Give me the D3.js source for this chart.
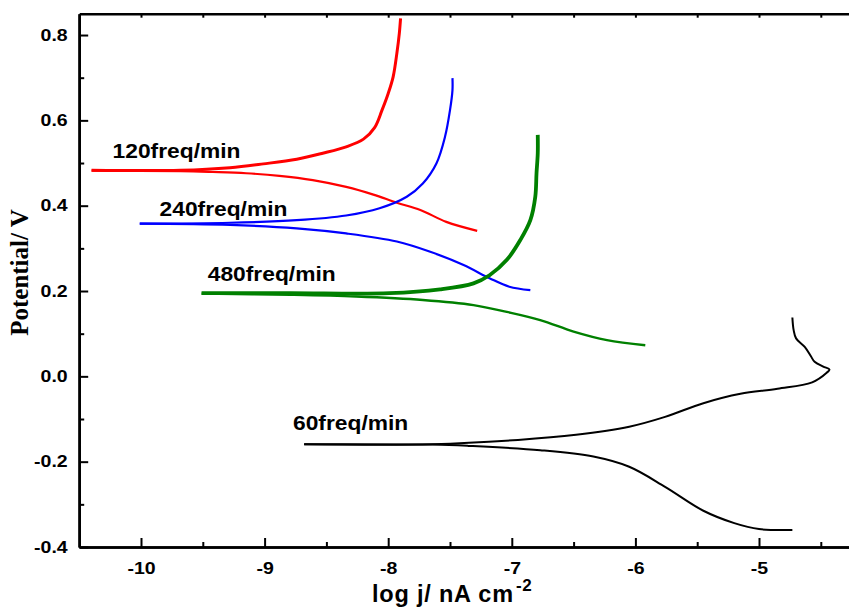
<!DOCTYPE html>
<html>
<head>
<meta charset="utf-8">
<script src="https://cdn.jsdelivr.net/npm/d3@7"></script>
<style>
  body { margin: 0; background: #fff; }
  svg { display: block; }
</style>
</head>
<body>
<div id="chart"></div>
<script>
// Tafel curves, [log j, E], from E corr outward
const cath60 = [[-8.68,-0.159],[-7.64,-0.160],[-7.35,-0.163],[-6.77,-0.173],[-6.34,-0.188],[-6.05,-0.212],[-5.76,-0.259],[-5.45,-0.315],[-5.20,-0.344],[-5.00,-0.358],[-4.73,-0.360]];
const anod60 = [[-8.68,-0.159],[-7.64,-0.159],[-6.95,-0.149],[-6.48,-0.137],[-6.05,-0.118],[-5.76,-0.095],[-5.45,-0.063],[-5.15,-0.041],[-4.85,-0.029],[-4.57,-0.014],[-4.45,0.009],[-4.43,0.016],[-4.48,0.023],[-4.55,0.034],[-4.58,0.047],[-4.63,0.069],[-4.70,0.089],[-4.72,0.109],[-4.73,0.138]];

const cath120 = [[-10.40,0.482],[-9.68,0.481],[-9.42,0.479],[-9.15,0.476],[-8.88,0.470],[-8.61,0.460],[-8.34,0.444],[-8.12,0.426],[-7.93,0.407],[-7.74,0.390],[-7.53,0.362],[-7.28,0.341]];
const anod120 = [[-10.40,0.483],[-9.68,0.483],[-9.28,0.489],[-9.01,0.498],[-8.74,0.509],[-8.53,0.523],[-8.34,0.538],[-8.20,0.556],[-8.11,0.583],[-8.05,0.624],[-8.00,0.663],[-7.96,0.702],[-7.93,0.757],[-7.91,0.804],[-7.90,0.839]];

const cath240 = [[-10.01,0.358],[-9.28,0.355],[-8.74,0.347],[-8.34,0.335],[-7.93,0.316],[-7.66,0.292],[-7.39,0.261],[-7.18,0.230],[-7.02,0.210],[-6.85,0.202]];
const anod240 = [[-10.01,0.358],[-9.28,0.360],[-8.74,0.366],[-8.34,0.377],[-8.07,0.394],[-7.85,0.421],[-7.72,0.452],[-7.61,0.499],[-7.54,0.562],[-7.50,0.624],[-7.48,0.671],[-7.48,0.699]];

const cath480 = [[-9.51,0.194],[-8.79,0.191],[-8.26,0.187],[-7.72,0.179],[-7.31,0.167],[-7.04,0.151],[-6.77,0.132],[-6.50,0.105],[-6.23,0.085],[-5.92,0.073]];
const anod480 = [[-9.51,0.195],[-8.79,0.195],[-7.99,0.195],[-7.58,0.204],[-7.31,0.218],[-7.18,0.237],[-7.04,0.273],[-6.93,0.320],[-6.85,0.366],[-6.81,0.421],[-6.80,0.476],[-6.79,0.523],[-6.79,0.566]];

const seriesNames = ["60freq/min", "120freq/min", "240freq/min", "480freq/min"];
const seriesColors = ["#000000", "#ff0000", "#0000ff", "#008000"];
const labelAt = [[-8.77, -0.126], [-10.23, 0.512], [-9.85, 0.377], [-9.46, 0.224]]; // label anchors, data units

const xMajor = [-10, -9, -8, -7, -6, -5];
const xMinor = [-9.5, -8.5, -7.5, -6.5, -5.5, -4.5];
const xTop = [-10, -9.5, -9, -8.5, -8, -7.5, -7, -6.5, -6, -5.5, -5, -4.5];
const yMajor = [-0.4, -0.2, 0.0, 0.2, 0.4, 0.6, 0.8];
const yMinor = [-0.3, -0.1, 0.1, 0.3, 0.5, 0.7];

const W = 849, H = 608;
const svg = d3.select("#chart").append("svg")
    .attr("width", W)
    .attr("height", H);

const x = d3.scaleLinear().domain([-10.5, -4.0]).range([79.2, 882.6]);
const y = d3.scaleLinear().domain([-0.4, 0.85]).range([547, 13.7]);
const plotLeft = x.range()[0], plotBottom = y.range()[0], plotTop = y.range()[1];

// stretch text horizontally around its own anchor (the original font is wide)
function stretch(sel, sx) {
    sel.attr("transform", function () {
        const tx = +this.getAttribute("x") || 0;
        const ty = +this.getAttribute("y") || 0;
        return `translate(${tx},${ty}) scale(${sx},1) translate(${-tx},${-ty})`;
    });
}

// curves
const line = d3.line()
    .x(d => x(d[0]))
    .y(d => y(d[1]))
    .curve(d3.curveCatmullRom.alpha(0.5));

const curves = [
    [cath60, 0, 2], [anod60, 0, 2],
    [cath120, 1, 2.2], [anod120, 1, 3],
    [cath240, 2, 2.2], [anod240, 2, 2.2],
    [cath480, 3, 2.4], [anod480, 3, 3.8]
];
curves.forEach(([pts, s, w]) => {
    svg.append("path")
        .datum(pts)
        .attr("d", line)
        .attr("fill", "none")
        .attr("stroke", seriesColors[s])
        .attr("stroke-width", w)
        .attr("stroke-linejoin", "round");
});

// axes
const styleAxis = g => {
    g.select(".domain").attr("stroke", "#000").attr("stroke-width", 2.6);
    g.selectAll(".tick line").attr("stroke", "#000").attr("stroke-width", 2);
};

svg.append("g")
    .attr("transform", `translate(0,${plotBottom})`)
    .call(d3.axisBottom(x).tickValues(xMinor).tickSize(-5).tickSizeOuter(0).tickFormat(""))
    .call(styleAxis);

const xAxis = svg.append("g")
    .attr("transform", `translate(0,${plotBottom})`)
    .call(d3.axisBottom(x).tickValues(xMajor).tickSize(-9).tickSizeOuter(0).tickFormat(d => String(d)))
    .call(styleAxis);
xAxis.selectAll(".tick text")
    .attr("y", 15.5)
    .attr("font-family", "Liberation Sans, Arial, sans-serif")
    .attr("font-weight", "bold")
    .attr("font-size", 16)
    .attr("fill", "#000")
    .call(stretch, 1.22);

svg.append("g")
    .attr("transform", `translate(0,${plotTop})`)
    .call(d3.axisTop(x).tickValues(xTop).tickSize(-4).tickSizeOuter(0).tickFormat(""))
    .call(styleAxis);

svg.append("g")
    .attr("transform", `translate(${plotLeft},0)`)
    .call(d3.axisLeft(y).tickValues(yMinor).tickSize(-5).tickSizeOuter(0).tickFormat(""))
    .call(styleAxis);

const yAxis = svg.append("g")
    .attr("transform", `translate(${plotLeft},0)`)
    .call(d3.axisLeft(y).tickValues(yMajor).tickSize(-9).tickSizeOuter(0).tickFormat(d => d.toFixed(1)))
    .call(styleAxis);
yAxis.selectAll(".tick text")
    .attr("x", -11.5)
    .attr("font-family", "Liberation Sans, Arial, sans-serif")
    .attr("font-weight", "bold")
    .attr("font-size", 16)
    .attr("fill", "#000")
    .call(stretch, 1.22);

// axis titles
const xt = svg.append("text")
    .attr("x", 372)
    .attr("y", 601.5)
    .attr("font-family", "Liberation Sans, Arial, sans-serif")
    .attr("font-weight", "bold")
    .attr("font-size", 23.5)
    .attr("letter-spacing", 0.8)
    .attr("fill", "#000");
xt.append("tspan").text("log j/ nA cm");
xt.append("tspan").attr("dy", -11).attr("font-size", 17).attr("dx", 2).text("-2");

svg.append("text")
    .attr("transform", `translate(28,272.5) rotate(-90)`)
    .attr("text-anchor", "middle")
    .attr("font-family", "Liberation Serif, Times New Roman, serif")
    .attr("font-weight", "bold")
    .attr("font-size", 25)
    .attr("fill", "#000")
    .text("Potential/ V");

// curve labels
svg.selectAll(".lab")
    .data(seriesNames)
    .join("text")
    .attr("class", "lab")
    .attr("x", (d, i) => x(labelAt[i][0]))
    .attr("y", (d, i) => y(labelAt[i][1]))
    .attr("font-family", "Liberation Sans, Arial, sans-serif")
    .attr("font-weight", "bold")
    .attr("font-size", 20)
    .attr("fill", "#000")
    .text(d => d)
    .call(stretch, 1.14);
</script>
</body>
</html>
